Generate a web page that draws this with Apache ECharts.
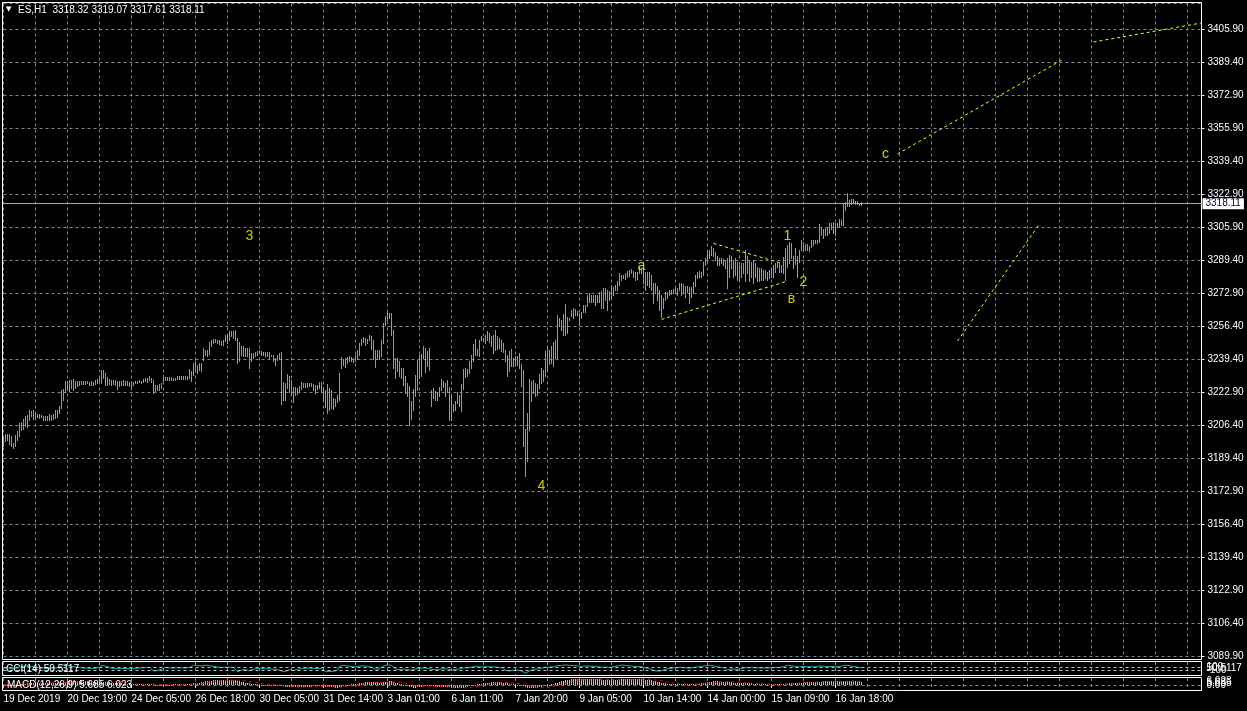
<!DOCTYPE html>
<html>
<head>
<meta charset="utf-8">
<script src="https://cdn.jsdelivr.net/npm/echarts@6/dist/echarts.min.js"></script>
<style>
html,body{margin:0;padding:0;background:#000;}
#chart{width:1247px;height:711px;}
</style>
</head>
<body>
<div id="chart"></div>
<script>
// ---------- DATA ----------
const headerText = 'ES,H1  3318.32 3319.07 3317.61 3318.11';
const cciTitle = 'CCI(14) 50.5117';
const macdTitle = 'MACD(12,26,9) 5.685 6.023';
const lastPriceLabel = '3318.11';
const lastPrice = 3318.11;

const priceLabels = ['3089.90','3106.40','3122.90','3139.40','3156.40','3172.90','3189.40','3206.40','3222.90','3239.40',
  '3256.40','3272.90','3289.40','3305.90','3322.90','3339.40','3355.90','3372.90','3389.40','3405.90'];

const timeLabels = ['19 Dec 2019','20 Dec 19:00','24 Dec 05:00','26 Dec 18:00','30 Dec 05:00','31 Dec 14:00','3 Jan 01:00',
  '6 Jan 11:00','7 Jan 20:00','9 Jan 05:00','10 Jan 14:00','14 Jan 00:00','15 Jan 09:00','16 Jan 18:00'];

const highs = [
3201.1,3202.1,3202.1,3202.1,3200.8,3197.4,3201.6,3203.3,3207.5,3207.9,
3209.5,3210.9,3211.7,3214.2,3213.4,3214.2,3212.2,3212.2,3212.1,3211.7,
3211.2,3211.2,3210.9,3212.1,3211.7,3212.2,3214.2,3213.9,3216.3,3224.3,
3224.8,3229.0,3228.5,3229.4,3229.4,3229.7,3228.9,3228.5,3228.9,3228.9,
3228.9,3228.9,3228.9,3228.4,3228.5,3228.4,3229.4,3229.7,3230.2,3234.4,
3234.1,3232.7,3230.7,3229.7,3229.4,3229.4,3229.4,3229.0,3228.9,3228.5,
3229.4,3228.5,3228.5,3228.2,3228.9,3228.0,3228.9,3228.9,3229.4,3229.0,
3229.7,3230.2,3230.2,3231.4,3230.2,3229.4,3226.8,3226.8,3227.2,3227.7,
3231.9,3231.0,3230.7,3230.7,3230.7,3230.5,3230.5,3231.4,3231.4,3231.4,
3231.4,3231.4,3231.4,3234.7,3233.6,3237.8,3238.6,3236.9,3237.8,3237.8,
3245.3,3244.5,3244.5,3248.2,3249.2,3249.9,3249.9,3249.5,3249.2,3248.7,
3249.2,3252.0,3251.2,3253.7,3254.1,3253.7,3254.6,3250.4,3248.2,3246.2,
3246.2,3245.3,3245.3,3245.3,3242.8,3242.8,3243.6,3244.0,3244.5,3244.1,
3243.6,3243.6,3243.6,3243.6,3242.0,3242.0,3240.3,3242.0,3242.8,3243.5,
3228.3,3227.8,3232.2,3231.2,3229.2,3225.8,3225.5,3225.0,3226.2,3228.3,
3227.8,3227.5,3227.8,3227.5,3227.5,3227.2,3226.7,3226.7,3228.3,3228.3,
3225.5,3224.1,3227.2,3225.0,3224.1,3220.4,3219.9,3221.6,3232.9,3240.6,
3239.6,3240.1,3240.6,3241.3,3240.6,3240.1,3241.8,3244.3,3247.7,3249.7,
3251.0,3250.2,3249.7,3251.9,3251.4,3249.3,3244.3,3244.6,3244.3,3249.5,
3257.9,3261.6,3263.5,3263.0,3263.0,3254.6,3240.3,3240.3,3238.6,3235.3,
3235.3,3231.1,3227.7,3226.4,3218.5,3224.7,3231.9,3239.5,3242.0,3242.5,
3246.5,3245.3,3243.7,3245.3,3224.3,3225.2,3223.5,3223.0,3225.7,3229.7,
3229.0,3227.7,3229.4,3225.7,3221.0,3217.3,3218.5,3223.0,3221.8,3227.4,
3234.8,3235.3,3234.8,3238.6,3242.0,3247.4,3249.9,3244.8,3249.5,3251.2,
3250.4,3252.1,3253.7,3252.9,3251.2,3252.1,3254.6,3251.6,3250.4,3249.2,
3247.9,3244.5,3242.0,3243.7,3244.8,3240.3,3241.5,3241.5,3242.8,3237.4,
3234.1,3204.5,3212.6,3229.7,3228.5,3229.4,3227.7,3227.4,3232.4,3235.3,
3234.1,3243.7,3246.2,3244.5,3246.5,3248.2,3249.5,3262.1,3260.5,3259.6,
3262.6,3267.7,3261.0,3260.5,3264.7,3265.5,3265.0,3263.8,3263.0,3263.7,
3267.1,3267.1,3272.1,3273.3,3272.1,3272.1,3272.1,3272.1,3273.8,3274.3,
3275.5,3275.5,3274.7,3274.3,3277.2,3276.3,3277.2,3278.9,3283.1,3282.2,
3282.2,3283.1,3284.4,3284.7,3285.1,3284.4,3283.9,3283.9,3286.4,3285.6,
3284.7,3283.9,3283.9,3283.9,3282.2,3278.0,3278.0,3276.7,3274.7,3272.1,
3270.5,3273.8,3273.8,3274.7,3274.7,3275.0,3275.5,3275.5,3278.0,3278.0,
3277.7,3276.7,3276.7,3276.3,3276.3,3278.4,3282.2,3283.9,3284.4,3283.9,
3288.9,3290.6,3294.0,3294.8,3296.8,3295.7,3294.0,3291.5,3290.6,3290.6,
3290.1,3289.8,3290.6,3292.3,3291.8,3289.8,3290.6,3288.9,3287.3,3288.4,
3288.1,3294.8,3291.5,3289.8,3288.9,3289.8,3288.1,3286.4,3285.6,3285.6,
3284.7,3284.7,3283.9,3284.7,3285.6,3287.3,3288.1,3288.1,3288.4,3287.3,
3291.1,3295.7,3297.3,3299.0,3298.2,3291.8,3295.7,3291.8,3294.8,3299.9,
3299.0,3297.8,3297.8,3296.8,3299.9,3299.9,3299.9,3299.9,3307.9,3306.6,
3305.2,3305.7,3306.6,3308.3,3308.3,3309.1,3308.3,3308.6,3310.3,3309.9,
3318.0,3319.2,3323.4,3320.0,3320.4,3320.4,3319.7,3319.7,3318.7,3319.07];

const lows = [
3195.8,3198.3,3199.1,3197.1,3196.1,3194.9,3196.1,3198.8,3201.1,3204.2,
3204.5,3206.2,3205.5,3209.2,3210.9,3209.5,3210.0,3210.4,3210.0,3210.5,
3209.2,3209.2,3208.9,3209.2,3209.2,3209.5,3210.0,3210.4,3212.6,3215.1,
3219.3,3223.0,3224.3,3223.5,3225.2,3224.3,3225.2,3226.3,3226.8,3227.2,
3227.3,3227.3,3227.7,3226.7,3226.5,3226.7,3227.3,3227.7,3228.5,3227.7,
3230.2,3226.8,3226.7,3227.3,3226.8,3227.2,3226.8,3224.7,3226.3,3226.8,
3226.8,3226.5,3226.8,3226.3,3225.2,3226.8,3227.7,3227.7,3228.0,3227.7,
3228.0,3228.5,3228.4,3229.4,3228.0,3222.6,3223.5,3224.3,3224.0,3225.2,
3228.0,3229.4,3229.4,3229.4,3229.4,3229.4,3229.4,3229.7,3229.7,3229.7,
3230.0,3230.0,3229.7,3230.2,3229.0,3231.9,3233.6,3232.7,3234.4,3233.6,
3239.4,3242.0,3241.1,3242.5,3246.5,3247.8,3248.2,3247.8,3247.5,3247.0,
3247.0,3248.7,3247.8,3249.5,3251.2,3250.4,3249.5,3237.8,3238.6,3242.0,
3241.1,3241.1,3241.1,3235.2,3238.6,3240.3,3241.1,3242.0,3242.8,3242.0,
3242.0,3241.1,3241.1,3240.3,3241.1,3238.6,3236.9,3239.4,3239.8,3217.4,
3219.1,3219.4,3225.0,3223.3,3221.6,3218.3,3221.6,3222.1,3223.3,3224.5,
3225.5,3225.8,3225.8,3226.2,3226.2,3224.1,3222.8,3224.5,3225.0,3223.3,
3218.8,3215.7,3212.7,3214.1,3214.9,3214.4,3216.1,3218.3,3219.1,3235.1,
3236.8,3235.9,3237.6,3238.9,3238.9,3238.4,3238.8,3239.6,3241.8,3246.8,
3248.5,3246.8,3248.0,3249.3,3245.1,3239.6,3235.9,3239.6,3239.6,3241.5,
3247.9,3257.1,3259.6,3260.5,3252.1,3235.3,3230.2,3233.6,3231.1,3230.2,
3226.9,3222.7,3221.0,3206.7,3209.6,3214.3,3221.0,3224.3,3230.2,3231.1,
3240.3,3233.1,3236.1,3234.1,3215.9,3220.1,3219.3,3219.3,3221.0,3224.3,
3225.7,3221.0,3223.0,3208.9,3208.9,3213.4,3214.3,3217.6,3215.9,3213.4,
3224.7,3230.7,3231.1,3232.7,3235.3,3238.6,3242.0,3242.0,3241.5,3249.2,
3248.7,3247.9,3249.5,3248.2,3246.2,3242.8,3244.5,3244.8,3245.3,3243.7,
3243.2,3238.6,3231.4,3233.6,3236.1,3236.1,3236.4,3236.9,3235.3,3226.0,
3195.8,3180.7,3188.2,3204.2,3218.5,3222.7,3221.3,3221.8,3225.2,3227.7,
3229.0,3231.1,3233.6,3237.4,3237.8,3236.1,3240.3,3240.3,3256.3,3254.6,
3252.1,3252.1,3252.9,3259.6,3261.3,3260.5,3262.1,3262.1,3257.1,3260.4,
3263.7,3263.7,3266.6,3268.8,3268.8,3268.8,3267.1,3268.8,3268.8,3265.4,
3265.4,3269.6,3264.6,3269.6,3270.5,3272.1,3274.7,3274.7,3277.2,3279.7,
3280.5,3280.0,3281.4,3281.7,3283.1,3281.4,3279.7,3280.0,3283.1,3283.1,
3278.0,3274.7,3277.2,3276.3,3274.7,3267.9,3273.0,3269.6,3264.6,3260.9,
3265.4,3269.6,3270.5,3272.1,3272.6,3273.0,3273.0,3272.1,3274.7,3272.1,
3273.0,3271.3,3273.8,3267.9,3271.3,3273.0,3276.7,3280.5,3281.4,3281.4,
3282.2,3287.3,3288.9,3290.6,3292.3,3291.5,3289.8,3287.3,3287.3,3288.1,
3287.3,3285.6,3275.5,3281.4,3285.6,3281.4,3282.2,3279.7,3278.9,3281.4,
3283.1,3278.9,3283.1,3278.9,3281.4,3278.0,3281.4,3278.9,3278.9,3279.7,
3279.7,3280.5,3279.7,3280.5,3281.4,3281.4,3283.9,3286.4,3283.9,3283.9,
3283.1,3279.7,3286.4,3288.1,3290.6,3285.6,3287.8,3281.4,3288.9,3294.8,
3294.8,3294.8,3294.8,3294.5,3296.5,3297.3,3298.2,3298.2,3299.0,3302.4,
3300.7,3302.4,3302.4,3303.2,3305.2,3303.2,3302.4,3306.2,3306.9,3307.4,
3307.4,3315.0,3316.7,3316.7,3318.0,3318.3,3318.0,3318.0,3317.5,3317.61];

const cciValues = [
20,30,40,25,-10,-40,0,30,
90,120,140,150,140,160,130,120,
90,70,50,40,20,10,0,10,0,10,40,40,
90,200,230,240,
180,170,140,120,90,60,50,40,30,30,20,10,0,0,20,30,
60,200,210,150,80,40,20,10,
10,-20,0,0,10,0,0,-10,-30,0,10,20,30,40,50,60,70,80,60,
-150,-180,-120,-80,-40,
40,60,50,40,40,30,30,40,40,40,30,30,30,60,40,
200,220,180,170,160,250,200,170,180,
150,130,110,90,70,60,50,80,60,80,80,70,60,
-200,-180,-100,-80,-60,-50,-120,
-60,-40,-20,0,10,0,0,-10,-10,-20,-20,-50,-80,-50,-40,
-150,-230,-200,-90,-60,-80,-120,-80,
-60,-30,0,10,20,20,20,20,0,-20,0,10,0,
-100,-180,-220,-180,-170,-180,-130,-100,
150,230,200,180,160,140,120,100,
100,120,150,170,170,140,130,130,80,10,-50,-30,-20,60,160,200,
220,210,190,80,-30,-40,-60,-80,
-40,-60,-80,-100,-90,-60,-20,10,20,40,30,30,20,20,
-60,-60,-70,-70,-40,-10,-10,-30,-20,-80,-90,-80,-60,-30,-30,-10,
30,40,40,60,80,110,120,90,100,110,100,110,120,110,90,80,90,70,60,40,30,
-120,-216,-150,-100,-110,-100,-90,-80,
-150,-250,-290,-250,-150,
-60,-40,-50,-40,0,20,30,70,90,90,100,100,110,
180,190,190,200,220,190,190,200,190,180,160,130,120,150,
160,170,150,140,130,120,110,100,80,90,90,70,70,90,100,
120,160,200,210,200,190,180,170,150,130,110,110,120,110,80,
40,20,0,-20,-120,-150,-160,-150,-140,-100,-50,-20,
0,10,30,40,50,60,60,50,40,40,20,30,50,90,110,110,110,
160,180,200,200,190,170,130,100,80,60,40,30,
-100,-60,-30,-50,-40,-40,-50,
20,30,60,50,40,40,40,50,40,30,30,30,30,30,30,40,50,60,60,60,70,
120,180,200,190,170,100,110,90,100,130,
130,120,110,100,110,110,100,100,160,150,140,130,130,130,120,120,110,110,110,110,180,190,200,180,150,120,100,80,60,50.5117];
const cciLevels = [100, -100];

const macdMain = [
0.5,0.4,0.3,0.2,0.0,-0.2,-0.2,-0.1,0.3,0.8,
1.3,1.9,2.4,3.0,3.4,3.8,4.0,4.1,4.1,4.0,
3.9,3.8,3.6,3.5,3.4,3.3,3.3,3.2,3.3,4.0,
4.6,5.4,6.0,6.4,6.8,7.0,7.1,7.1,7.0,6.9,
6.7,6.5,6.2,5.9,5.6,5.3,5.1,4.9,4.8,5.0,
5.1,5.0,4.7,4.4,4.1,3.8,3.5,3.2,2.9,2.6,
2.3,2.1,1.9,1.7,1.5,1.3,1.2,1.1,1.0,1.0,
1.0,1.0,1.1,1.2,1.3,0.9,0.5,0.2,0.0,-0.1,
0.1,0.3,0.4,0.5,0.6,0.7,0.8,0.9,1.0,1.1,
1.2,1.3,1.3,1.7,1.9,2.6,3.3,3.7,4.1,4.4,
5.3,5.9,6.3,6.9,7.5,7.9,8.2,8.3,8.3,8.2,
8.1,8.2,8.1,8.2,8.2,8.1,8.0,7.1,6.1,5.3,
4.6,4.0,3.4,2.6,2.0,1.5,1.1,0.8,0.6,0.4,
0.2,0.0,-0.1,-0.2,-0.3,-0.5,-0.8,-1.0,-1.2,-1.6,
-2.5,-3.2,-3.4,-3.5,-3.7,-4.0,-4.2,-4.3,-4.3,-4.1,
-3.9,-3.6,-3.4,-3.2,-3.0,-2.8,-2.8,-2.7,-2.5,-2.4,
-2.6,-3.0,-3.5,-3.9,-4.2,-4.5,-4.7,-4.8,-4.4,-3.0,
-1.9,-1.0,-0.3,0.3,0.8,1.2,1.6,2.1,2.6,3.3,
3.9,4.4,4.8,5.2,5.4,5.2,4.7,4.3,3.9,3.9,
4.3,5.0,5.7,6.2,6.4,5.5,4.0,2.8,1.7,0.7,
-0.4,-1.5,-2.4,-3.6,-4.6,-5.0,-4.9,-4.3,-3.6,-3.0,
-2.1,-1.7,-1.4,-1.0,-2.1,-2.8,-3.4,-3.9,-4.2,-4.2,
-4.1,-4.1,-4.0,-4.5,-5.0,-5.5,-5.9,-5.9,-5.9,-5.6,
-4.8,-4.0,-3.3,-2.5,-1.6,-0.6,0.3,0.8,1.4,2.0,
2.6,3.1,3.7,4.1,4.3,4.4,4.6,4.6,4.5,4.3,
4.0,3.5,2.7,2.1,1.7,1.2,0.8,0.4,0.2,-0.6,
-2.5,-4.5,-5.8,-5.8,-5.6,-5.3,-5.0,-4.7,-4.1,-3.3,
-2.6,-1.6,-0.6,0.2,1.0,1.8,2.5,4.0,5.2,6.1,
6.9,7.8,8.4,8.9,9.5,10.0,10.3,10.5,10.3,10.0,
9.8,9.7,9.8,9.8,9.8,9.8,9.7,9.6,9.5,9.3,
9.2,9.1,8.9,8.8,8.7,8.7,8.7,8.8,9.2,9.4,
9.6,9.8,10.0,10.1,10.2,10.1,10.0,9.9,10.0,10.0,
9.8,9.3,8.8,8.3,7.8,6.9,6.1,5.3,4.4,3.4,
2.8,2.4,2.1,1.9,1.7,1.5,1.4,1.3,1.4,1.4,
1.4,1.3,1.2,0.9,0.8,0.9,1.3,1.8,2.2,2.5,
3.1,3.7,4.4,5.0,5.6,5.9,6.1,6.0,5.8,5.6,
5.4,5.1,4.7,4.4,4.2,3.9,3.7,3.4,3.1,2.9,
2.7,2.8,2.8,2.6,2.4,2.3,2.1,1.9,1.6,1.4,
1.2,1.0,0.8,0.7,0.6,0.7,0.8,0.9,1.0,1.0,
1.3,1.8,2.3,2.8,3.3,3.3,3.5,3.3,3.5,4.0,
4.3,4.5,4.6,4.6,4.8,4.9,5.0,5.0,5.5,5.8,
5.9,6.0,6.0,6.0,6.0,6.0,6.0,5.9,5.9,5.9,
6.5,7.0,7.5,7.5,7.2,6.9,6.6,6.3,6.0,5.685];

const macdSignal = [
0.8,0.7,0.7,0.6,0.5,0.4,0.3,0.2,0.2,0.2,
0.3,0.4,0.6,0.9,1.2,1.6,1.9,2.3,2.6,2.9,
3.2,3.4,3.6,3.7,3.8,3.8,3.7,3.6,3.5,3.5,
3.6,3.7,3.9,4.1,4.4,4.7,5.0,5.4,5.8,6.2,
6.5,6.7,6.8,6.8,6.7,6.5,6.3,6.0,5.8,5.6,
5.4,5.3,5.2,5.1,5.0,4.8,4.6,4.4,4.1,3.8,
3.5,3.2,2.9,2.6,2.3,2.1,1.9,1.7,1.5,1.3,
1.2,1.1,1.1,1.1,1.1,1.1,1.0,0.9,0.8,0.7,
0.6,0.5,0.4,0.3,0.3,0.3,0.4,0.5,0.6,0.7,
0.8,0.9,1.0,1.1,1.2,1.4,1.6,1.9,2.2,2.6,
3.0,3.5,4.0,4.5,5.0,5.5,6.0,6.5,6.9,7.3,
7.6,7.8,8.0,8.1,8.2,8.2,8.2,8.0,7.8,7.5,
7.1,6.7,6.2,5.7,5.1,4.5,3.9,3.3,2.8,2.3,
1.8,1.4,1.0,0.7,0.4,0.2,0.0,-0.2,-0.4,-0.6,
-0.9,-1.2,-1.6,-2.0,-2.4,-2.8,-3.1,-3.4,-3.6,-3.8,
-3.9,-4.0,-4.0,-3.9,-3.7,-3.5,-3.3,-3.1,-3.0,-2.9,
-2.8,-2.8,-2.9,-3.0,-3.2,-3.4,-3.7,-3.9,-4.1,-4.0,
-3.8,-3.4,-2.9,-2.4,-1.8,-1.2,-0.6,0.0,0.6,1.1,
1.6,2.1,2.6,3.1,3.6,4.0,4.3,4.5,4.6,4.6,
4.6,4.6,4.7,4.9,5.1,5.2,5.1,4.9,4.5,4.0,
3.4,2.7,2.0,1.2,0.3,-0.6,-1.4,-2.1,-2.7,-3.2,
-3.5,-3.6,-3.5,-3.3,-3.1,-2.9,-2.8,-2.8,-2.9,-3.1,
-3.4,-3.6,-3.8,-4.0,-4.2,-4.4,-4.6,-4.8,-5.0,-5.2,
-5.3,-5.3,-5.1,-4.8,-4.4,-3.9,-3.3,-2.7,-2.0,-1.3,
-0.6,0.1,0.8,1.4,2.0,2.6,3.1,3.5,3.9,4.1,
4.2,4.2,4.1,3.9,3.6,3.2,2.8,2.3,1.8,1.3,
0.6,-0.2,-1.0,-1.8,-2.5,-3.2,-3.8,-4.3,-4.7,-4.9,
-4.9,-4.8,-4.5,-4.0,-3.4,-2.7,-1.9,-1.0,0.0,1.0,
2.0,3.0,4.0,5.0,5.9,6.8,7.6,8.3,8.9,9.3,
9.6,9.8,9.9,10.0,10.0,10.0,9.9,9.9,9.8,9.7,
9.6,9.5,9.4,9.3,9.2,9.1,9.0,8.9,8.9,8.9,
9.0,9.1,9.2,9.3,9.5,9.6,9.7,9.8,9.9,10.0,
10.0,9.9,9.8,9.6,9.3,9.0,8.6,8.1,7.6,7.0,
6.4,5.8,5.1,4.5,3.9,3.3,2.8,2.3,2.0,1.7,
1.5,1.4,1.3,1.2,1.2,1.1,1.1,1.2,1.3,1.5,
1.7,2.0,2.4,2.8,3.3,3.8,4.3,4.7,5.1,5.4,
5.6,5.7,5.7,5.6,5.4,5.2,4.9,4.6,4.3,4.0,
3.7,3.4,3.2,3.0,2.8,2.6,2.4,2.2,2.0,1.8,
1.6,1.4,1.2,1.1,1.0,0.9,0.9,0.9,1.0,1.1,
1.2,1.4,1.6,1.8,2.1,2.4,2.7,3.0,3.3,3.6,
3.9,4.2,4.4,4.6,4.8,5.0,5.1,5.3,5.4,5.5,
5.6,5.7,5.8,5.8,5.9,5.9,5.9,6.0,6.0,6.0,
6.1,6.2,6.3,6.4,6.5,6.4,6.3,6.2,6.1,6.023];
const macdLevels = [0];

// wave marks: [text, bar index, price]
const waveLabels = [['3',123,3301.6],['4',269.1,3175.8],['a',319.1,3286.8],['1',392.2,3301.9],
  ['2',400.1,3278.6],['в',394.1,3270.0],['c',441.25,3343.3]];
// trend lines: [[index, price], [index, price]]
const trendLines = [
  [[354.9,3298.1],[389.1,3288.1]],
  [[329.1,3259.8],[390.75,3278.8]],
  [[446.75,3343.2],[529.75,3391.0]],
  [[544.75,3399.6],[598.75,3409.2]],
  [[476.75,3248.9],[518.25,3307.9]]
];

// ---------- CHART ----------
const SLOTS = 600;          // bar slots across the chart width
const LABEL_EVERY = 32;
const GRID_EVERY = 16;
const categories = [];
for (let i = 0; i < SLOTS; i++) {
  const k = i / LABEL_EVERY;
  categories.push(i % LABEL_EVERY === 0 && k < timeLabels.length ? timeLabels[k] : '');
}
const priceMin = 3089.9;
const priceStep = (3405.9 - 3089.9) / 19;
const labelMax = 653 / 33;
const priceMax = priceMin + priceStep * labelMax;

const FONT = 'Liberation Sans';
const FS = 10;
const WHITE = '#ffffff';
const BAR = '#3ce02a';
const gridDash = { color: '#778899', type: [3, 3], width: 1 };

function barItem(params, api) {
  const i = api.value(0);
  const top = api.coord([i, api.value(2)]);
  const bot = api.coord([i, api.value(1)]);
  const x = Math.round(top[0] - 0.5);
  const y1 = Math.round(top[1]);
  const y2 = Math.round(bot[1]);
  return { type: 'rect', shape: { x: x, y: y1, width: 1, height: Math.max(1, y2 - y1 + 1) }, style: { fill: BAR } };
}
function histItem(params, api) {
  const i = api.value(0), v = api.value(1);
  const z = api.coord([i, 0]), p = api.coord([i, v]);
  const x = Math.round(z[0] - 0.5);
  const y0 = Math.round(z[1]), y1 = Math.round(p[1]);
  return { type: 'rect', shape: { x: x, y: Math.min(y0, y1), width: 1, height: Math.max(1, Math.abs(y1 - y0)) }, style: { fill: '#c0c0c0' } };
}

const catAxisBase = (gi) => ({
  gridIndex: gi, type: 'category', data: categories, boundaryGap: false,
  axisLine: { show: false }, axisTick: { show: false }, axisLabel: { show: false },
  splitLine: { show: true, interval: GRID_EVERY - 1, lineStyle: gridDash }
});
const labelFn = (idx, val) => val !== '';

const xAxes = [catAxisBase(0), catAxisBase(1), catAxisBase(2)];
xAxes[2].axisTick = { show: true, interval: labelFn, length: 3, lineStyle: { color: WHITE } };
xAxes[2].axisLabel = { show: true, interval: labelFn, align: 'left', margin: 4, color: WHITE, fontSize: FS, fontFamily: FONT };
for (let g = 3; g < 6; g++) xAxes.push({ gridIndex: g, type: 'value', show: false });

const yAxes = [
  { gridIndex: 0, type: 'value', min: priceMin, max: priceMax, show: false, splitLine: { show: false } },
  { gridIndex: 0, type: 'value', position: 'right', min: 0, max: labelMax, interval: 1,
    axisLine: { show: false }, axisTick: { show: true, length: 3, lineStyle: { color: WHITE } },
    axisLabel: { color: WHITE, fontSize: FS, fontFamily: FONT, margin: 6, showMaxLabel: false,
      formatter: (v) => (Number.isInteger(v) && v < priceLabels.length) ? priceLabels[v] : '' },
    splitLine: { show: true, lineStyle: gridDash } },
  { gridIndex: 1, type: 'value', position: 'right', min: -400, max: 400, interval: 100,
    axisLine: { show: false }, axisTick: { show: false }, splitLine: { show: false },
    axisLabel: { color: WHITE, fontSize: FS, fontFamily: FONT, margin: 5,
      formatter: (v) => (v === 100 ? '100' : v === -100 ? '-100' : v === 0 ? '50.5117' : '') } },
  { gridIndex: 2, type: 'value', position: 'right', min: -9, max: 12, interval: 3,
    axisLine: { show: false }, axisTick: { show: false }, splitLine: { show: false },
    axisLabel: { color: WHITE, fontSize: FS, fontFamily: FONT, margin: 5,
      formatter: (v) => (v === 0 ? '0.00' : v === 6 ? '6.023' : v === 3 ? '5.685' : '') } }
];
for (let g = 3; g < 6; g++) yAxes.push({ gridIndex: g, type: 'value', show: false });

const series = [
  { type: 'custom', name: 'ES', xAxisIndex: 0, yAxisIndex: 0, renderItem: barItem,
    encode: { x: 0, y: [1, 2] }, data: highs.map((h, i) => [i, lows[i], h]), z: 3, silent: true },
  { type: 'scatter', xAxisIndex: 0, yAxisIndex: 0, symbolSize: 1, itemStyle: { color: 'rgba(0,0,0,0)' }, z: 6,
    data: waveLabels.map(w => ({ name: w[0], value: [w[1], w[2]] })),
    label: { show: true, position: 'inside', formatter: '{b}', color: '#ffff00', fontSize: 14, fontFamily: FONT },
    markLine: { silent: true, symbol: ['none', 'none'], animation: false,
      lineStyle: { color: '#a0a8b0', type: 'solid', width: 1 },
      label: { show: true, position: 'end', distance: 1, formatter: lastPriceLabel, color: '#000040',
        backgroundColor: '#ffffff', padding: [1, 3, 0, 3], fontSize: FS, fontFamily: FONT },
      data: [{ yAxis: lastPrice }] } }
];
trendLines.forEach((tl) => {
  series.push({ type: 'line', xAxisIndex: 0, yAxisIndex: 0, data: tl, symbol: 'none', z: 5, silent: true,
    lineStyle: { color: '#ffff00', width: 1, type: [3, 3] } });
});
series.push({ type: 'line', name: 'CCI', xAxisIndex: 1, yAxisIndex: 2, data: cciValues, symbol: 'none', silent: true,
  lineStyle: { color: '#20b2aa', width: 1 }, z: 4,
  markLine: { silent: true, symbol: ['none', 'none'], label: { show: false }, animation: false,
    lineStyle: { color: '#c0c0c0', type: [3, 3], width: 1 }, data: cciLevels.map(v => ({ yAxis: v })) } });
series.push({ type: 'custom', name: 'MACD', xAxisIndex: 2, yAxisIndex: 3, renderItem: histItem,
  encode: { x: 0, y: 1 }, data: macdMain.map((v, i) => [i, v]), silent: true, z: 3,
  markLine: { silent: true, symbol: ['none', 'none'], label: { show: false }, animation: false,
    lineStyle: { color: '#778899', type: [3, 3], width: 1 }, data: macdLevels.map(v => ({ yAxis: v })) } });
series.push({ type: 'line', name: 'Signal', xAxisIndex: 2, yAxisIndex: 3, data: macdSignal, symbol: 'none', silent: true,
  lineStyle: { color: '#ff0000', width: 1, type: [3, 3] }, z: 4 });

const frame = { show: true, borderColor: WHITE, borderWidth: 1, backgroundColor: 'transparent' };
const tStyle = { color: WHITE, fontSize: FS, fontFamily: FONT, fontWeight: 'normal' };
const option = {
  backgroundColor: '#000000',
  animation: false,
  title: [
    { text: '▼', left: 6, top: 6, padding: 0, textStyle: { color: WHITE, fontSize: 7, fontFamily: 'DejaVu Sans', fontWeight: 'normal' } },
    { text: headerText, left: 18, top: 5, padding: 0, textStyle: tStyle },
    { text: cciTitle, left: 6, top: 664, padding: 0, textStyle: tStyle },
    { text: macdTitle, left: 7, top: 680, padding: 0, textStyle: tStyle }
  ],
  grid: [
    { left: 3.5, top: 3.5, width: 1198, height: 653 },
    { left: 3.5, top: 662, width: 1198, height: 13 },
    { left: 3.5, top: 678, width: 1198, height: 12 },
    Object.assign({ left: 2.5, top: 2.5, width: 1199, height: 657 }, frame),
    Object.assign({ left: 2.5, top: 661.5, width: 1199, height: 14 }, frame),
    Object.assign({ left: 2.5, top: 677.5, width: 1199, height: 13 }, frame)
  ],
  xAxis: xAxes,
  yAxis: yAxes,
  series: series
};
const chart = echarts.init(document.getElementById('chart'), null, { renderer: 'canvas' });
chart.setOption(option);
</script>
</body>
</html>
